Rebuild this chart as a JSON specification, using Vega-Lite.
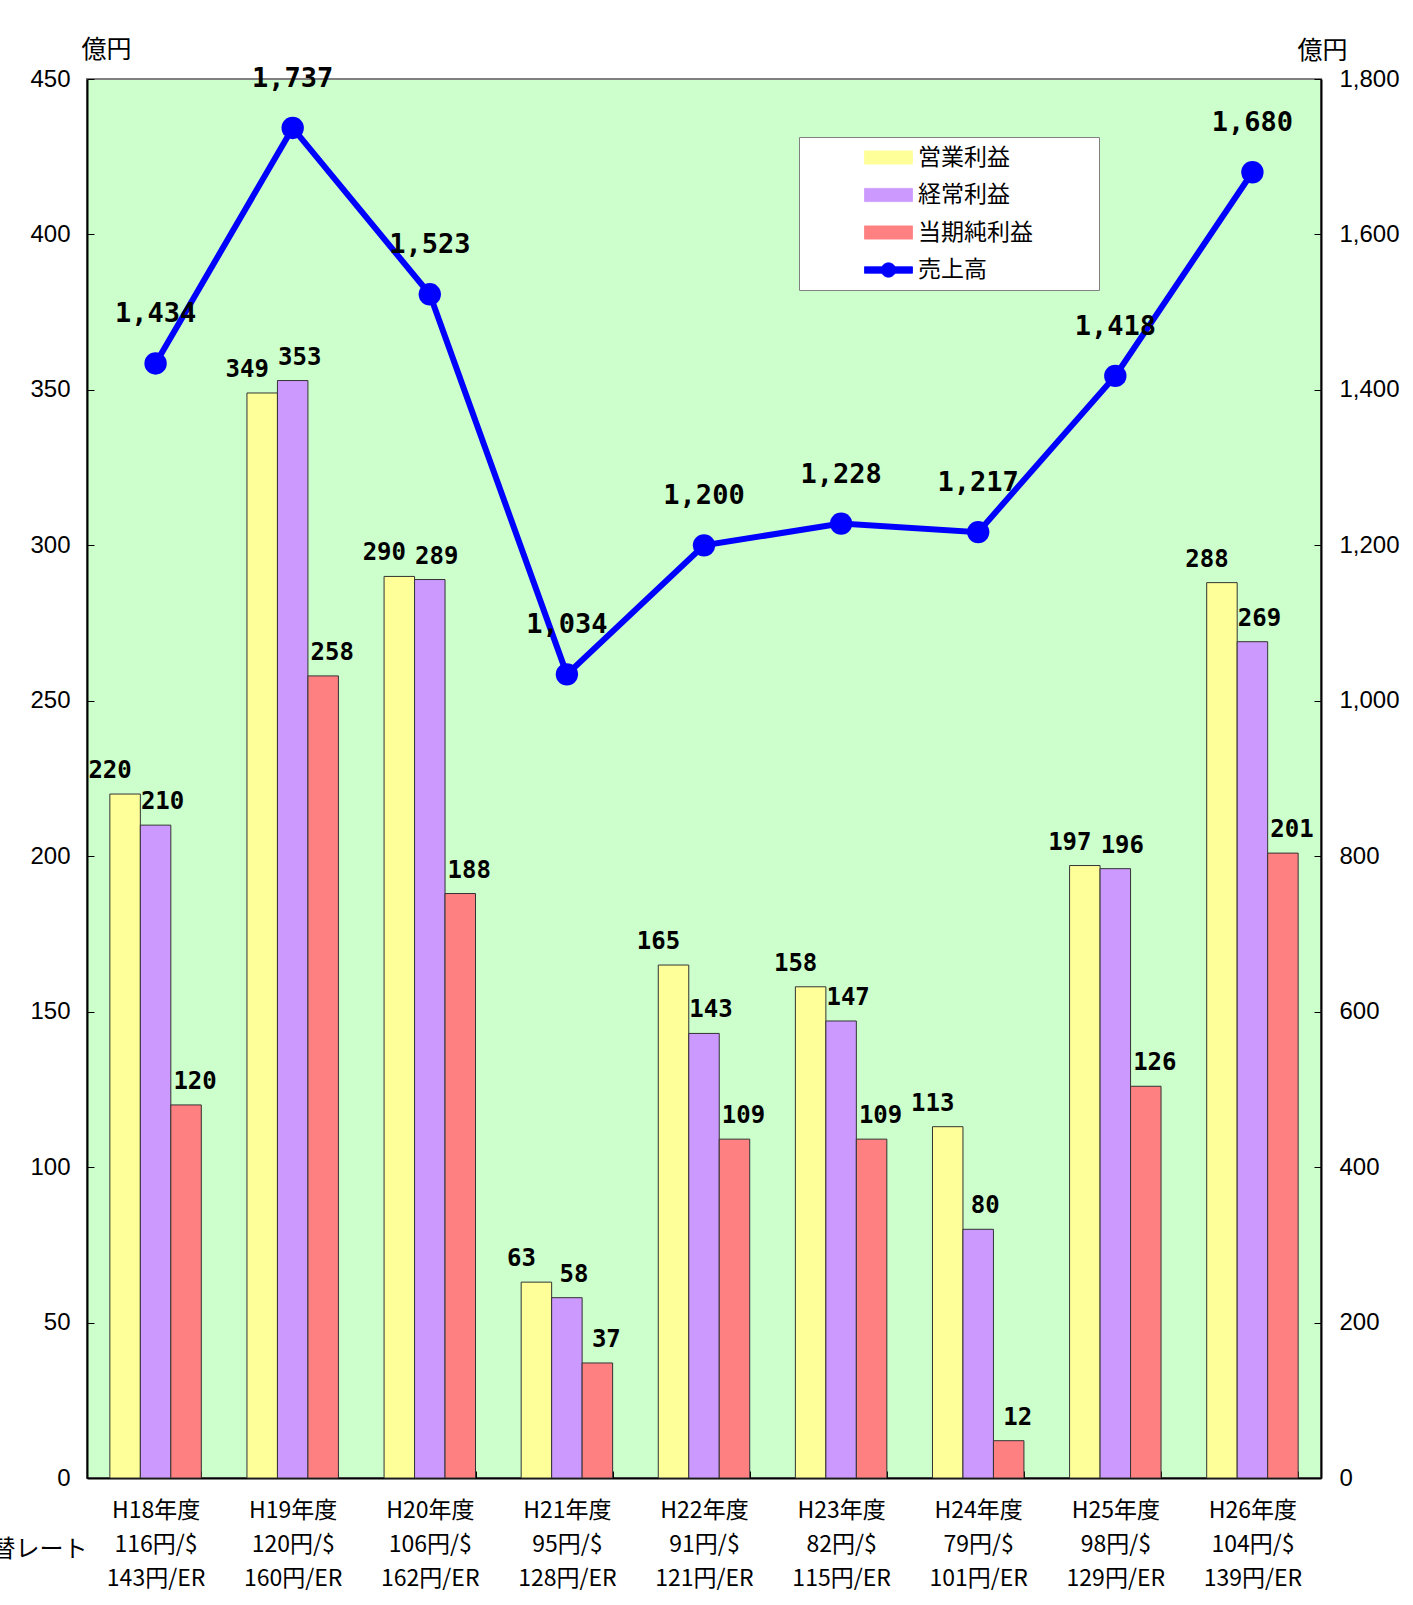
{
  "$schema": "https://vega.github.io/schema/vega-lite/v6.json",
  "width": 1234,
  "height": 1399,
  "autosize": "none",
  "padding": {"left": 87, "top": 79, "right": 92, "bottom": 127},
  "background": "white",
  "config": {
    "view": {"fill": "#CCFFCC", "stroke": "#808080", "strokeWidth": 2},
    "font": "Liberation Sans",
    "legend": {
      "title": null,
      "orient": "none",
      "legendX": 712,
      "legendY": 58,
      "fillColor": "white",
      "strokeColor": "#808080",
      "padding": 8,
      "symbolSize": 576,
      "symbolOffset": 69,
      "symbolStrokeColor": "#333333",
      "symbolStrokeWidth": 0.8,
      "symbolOpacity": 1,
      "labelOffset": 17,
      "labelFont": "Noto Sans CJK JP",
      "labelFontSize": 23,
      "labelColor": "black",
      "labelLimit": 400,
      "rowPadding": 12.5
    }
  },
  "datasets": {
    "profit": [
      {"cat": "H18年度|116円/$|143円/ER", "series": "営業利益", "value": 220},
      {"cat": "H18年度|116円/$|143円/ER", "series": "経常利益", "value": 210},
      {"cat": "H18年度|116円/$|143円/ER", "series": "当期純利益", "value": 120},
      {"cat": "H19年度|120円/$|160円/ER", "series": "営業利益", "value": 349},
      {"cat": "H19年度|120円/$|160円/ER", "series": "経常利益", "value": 353},
      {"cat": "H19年度|120円/$|160円/ER", "series": "当期純利益", "value": 258},
      {"cat": "H20年度|106円/$|162円/ER", "series": "営業利益", "value": 290},
      {"cat": "H20年度|106円/$|162円/ER", "series": "経常利益", "value": 289},
      {"cat": "H20年度|106円/$|162円/ER", "series": "当期純利益", "value": 188},
      {"cat": "H21年度|95円/$|128円/ER", "series": "営業利益", "value": 63},
      {"cat": "H21年度|95円/$|128円/ER", "series": "経常利益", "value": 58},
      {"cat": "H21年度|95円/$|128円/ER", "series": "当期純利益", "value": 37},
      {"cat": "H22年度|91円/$|121円/ER", "series": "営業利益", "value": 165},
      {"cat": "H22年度|91円/$|121円/ER", "series": "経常利益", "value": 143},
      {"cat": "H22年度|91円/$|121円/ER", "series": "当期純利益", "value": 109},
      {"cat": "H23年度|82円/$|115円/ER", "series": "営業利益", "value": 158},
      {"cat": "H23年度|82円/$|115円/ER", "series": "経常利益", "value": 147},
      {"cat": "H23年度|82円/$|115円/ER", "series": "当期純利益", "value": 109},
      {"cat": "H24年度|79円/$|101円/ER", "series": "営業利益", "value": 113},
      {"cat": "H24年度|79円/$|101円/ER", "series": "経常利益", "value": 80},
      {"cat": "H24年度|79円/$|101円/ER", "series": "当期純利益", "value": 12},
      {"cat": "H25年度|98円/$|129円/ER", "series": "営業利益", "value": 197},
      {"cat": "H25年度|98円/$|129円/ER", "series": "経常利益", "value": 196},
      {"cat": "H25年度|98円/$|129円/ER", "series": "当期純利益", "value": 126},
      {"cat": "H26年度|104円/$|139円/ER", "series": "営業利益", "value": 288},
      {"cat": "H26年度|104円/$|139円/ER", "series": "経常利益", "value": 269},
      {"cat": "H26年度|104円/$|139円/ER", "series": "当期純利益", "value": 201}
    ],
    "sales": [
      {"cat": "H18年度|116円/$|143円/ER", "sales": 1434},
      {"cat": "H19年度|120円/$|160円/ER", "sales": 1737},
      {"cat": "H20年度|106円/$|162円/ER", "sales": 1523},
      {"cat": "H21年度|95円/$|128円/ER", "sales": 1034},
      {"cat": "H22年度|91円/$|121円/ER", "sales": 1200},
      {"cat": "H23年度|82円/$|115円/ER", "sales": 1228},
      {"cat": "H24年度|79円/$|101円/ER", "sales": 1217},
      {"cat": "H25年度|98円/$|129円/ER", "sales": 1418},
      {"cat": "H26年度|104円/$|139円/ER", "sales": 1680}
    ]
  },
  "encoding": {
    "x": {
      "field": "cat",
      "type": "nominal",
      "sort": null,
      "scale": {"paddingInner": 0.333, "paddingOuter": 0.1667},
      "axis": {
        "title": "為替レート",
        "titleX": -60,
        "titleY": 71,
        "titleAlign": "center",
        "titleBaseline": "middle",
        "titleAngle": 0,
        "titleFont": "Noto Sans CJK JP",
        "titleFontSize": 24,
        "titleFontWeight": "normal",
        "titleColor": "black",
        "labelExpr": "isValid(datum.value) ? split(datum.value, '|') : ''",
        "labelFont": "Noto Sans CJK JP",
        "labelFontSize": 23,
        "labelLineHeight": 34,
        "labelPadding": 28,
        "labelAngle": 0,
        "labelColor": "black",
        "tickBand": "extent",
        "tickSize": -7,
        "tickColor": "black",
        "domainColor": "black",
        "domainWidth": 2
      }
    }
  },
  "layer": [
    {
      "data": {"name": "profit"},
      "encoding": {
        "xOffset": {"field": "series", "type": "nominal", "sort": ["営業利益", "経常利益", "当期純利益"], "scale": {"paddingInner": 0, "paddingOuter": 0}},
        "y": {
          "field": "value",
          "type": "quantitative",
          "scale": {"domain": [0, 450], "nice": false},
          "axis": {
            "title": "億円",
            "titleAngle": 0,
            "titleX": 19,
            "titleY": -30,
            "titleAlign": "center",
            "titleBaseline": "middle",
            "titleFont": "Noto Sans CJK JP",
            "titleFontSize": 25,
            "titleFontWeight": "normal",
            "titleColor": "black",
            "values": [0, 50, 100, 150, 200, 250, 300, 350, 400, 450],
            "labelFontSize": 24,
            "labelColor": "black",
            "labelPadding": 24,
            "tickSize": -7,
            "tickColor": "black",
            "grid": false,
            "domainColor": "black",
            "domainWidth": 2
          }
        }
      },
      "layer": [
        {
          "mark": {"type": "bar", "stroke": "#333333", "strokeWidth": 1},
          "encoding": {
            "color": {
              "field": "series",
              "type": "nominal",
              "scale": {
                "domain": ["営業利益", "経常利益", "当期純利益", "売上高"],
                "range": ["#FFFF99", "#CC99FF", "#FF8080", "#0000FF"]
              },
              "legend": {
                "title": null,
                "orient": "none",
                "legendX": 712,
                "legendY": 58,
                "labelExpr": "datum.label + '\u3000\u3000\u2002\u200b'"
              }
            }
          }
        },
        {
          "mark": {"type": "point", "filled": true, "size": 0, "strokeWidth": 0},
          "encoding": {
            "shape": {
              "field": "series",
              "type": "nominal",
              "scale": {
                "domain": ["営業利益", "経常利益", "当期純利益", "売上高"],
                "range": ["M-2,-0.55H2V0.55H-2Z", "M-2,-0.55H2V0.55H-2Z", "M-2,-0.55H2V0.55H-2Z", "M-2,-0.27H2V0.27H-2Z M-0.6,0A0.6,0.6 0 1,1 0.6,0A0.6,0.6 0 1,1 -0.6,0Z"]
              },
              "legend": {
                "title": null,
                "orient": "none",
                "legendX": 712,
                "legendY": 58,
                "labelExpr": "datum.label + '\u3000\u3000\u2002\u200b'"
              }
            }
          }
        },
        {
          "transform": [{"filter": "datum.series === '営業利益'"}],
          "mark": {"type": "text", "font": "DejaVu Sans Mono", "fontWeight": "bold", "fontSize": 24, "dy": -23, "dx": -15, "baseline": "middle", "color": "black"},
          "encoding": {"text": {"field": "value", "type": "quantitative"}}
        },
        {
          "transform": [{"filter": "datum.series === '経常利益'"}],
          "mark": {"type": "text", "font": "DejaVu Sans Mono", "fontWeight": "bold", "fontSize": 24, "dy": -23, "dx": 7, "baseline": "middle", "color": "black"},
          "encoding": {"text": {"field": "value", "type": "quantitative"}}
        },
        {
          "transform": [{"filter": "datum.series === '当期純利益'"}],
          "mark": {"type": "text", "font": "DejaVu Sans Mono", "fontWeight": "bold", "fontSize": 24, "dy": -23, "dx": 9, "baseline": "middle", "color": "black"},
          "encoding": {"text": {"field": "value", "type": "quantitative"}}
        }
      ]
    },
    {
      "data": {"name": "sales"},
      "encoding": {
        "y": {
          "field": "sales",
          "type": "quantitative",
          "scale": {"domain": [0, 1800], "nice": false},
          "axis": {
            "orient": "right",
            "title": "億円",
            "titleAngle": 0,
            "titleX": 1,
            "titleY": -29,
            "titleAlign": "center",
            "titleBaseline": "middle",
            "titleFont": "Noto Sans CJK JP",
            "titleFontSize": 25,
            "titleFontWeight": "normal",
            "titleColor": "black",
            "values": [0, 200, 400, 600, 800, 1000, 1200, 1400, 1600, 1800],
            "labelExpr": "format(datum.value, ',')",
            "labelFontSize": 24,
            "labelColor": "black",
            "labelPadding": 25,
            "tickSize": -7,
            "tickColor": "black",
            "grid": false,
            "domainColor": "black",
            "domainWidth": 2
          }
        }
      },
      "layer": [
        {
          "mark": {"type": "line", "strokeWidth": 6},
          "encoding": {"color": {"datum": "売上高", "type": "nominal"}}
        },
        {
          "mark": {"type": "point", "filled": true, "size": 500, "opacity": 1, "color": "#0000FF"}
        },
        {
          "mark": {"type": "text", "font": "DejaVu Sans Mono", "fontWeight": "bold", "fontSize": 27, "dy": -49, "baseline": "middle", "color": "black"},
          "encoding": {"text": {"field": "sales", "type": "quantitative", "format": ","}}
        }
      ]
    }
  ],
  "resolve": {"scale": {"y": "independent"}}
}
